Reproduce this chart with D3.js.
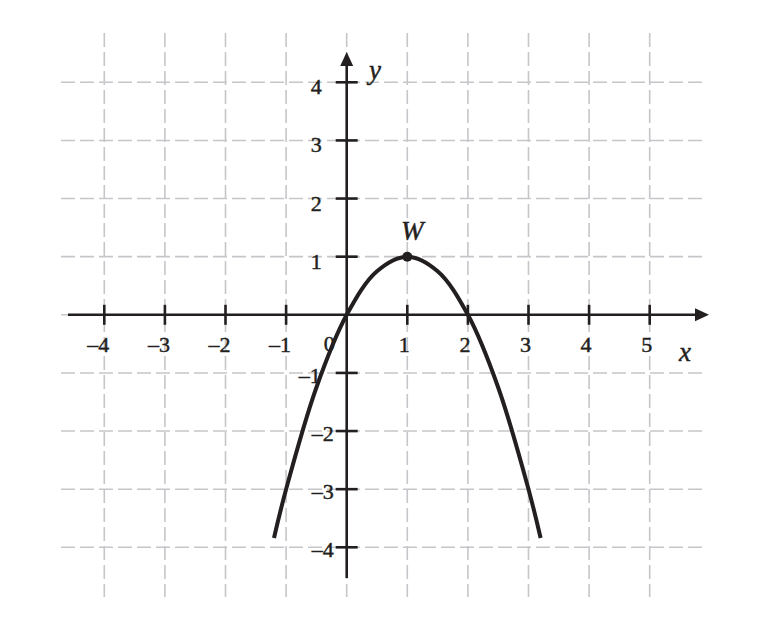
<!DOCTYPE html>
<html>
<head>
<meta charset="utf-8">
<script src="https://cdn.jsdelivr.net/npm/d3@7"></script>
<style>
  html, body { margin: 0; padding: 0; background: #fff; }
  svg { display: block; }
  .serif { font-family: "Liberation Serif", "Times New Roman", serif; }
</style>
</head>
<body>
<svg class="graph_svg"></svg>
<script>
// values
var xTicks = [-4, -3, -2, -1, 1, 2, 3, 4, 5];
var yTicks = [-4, -3, -2, -1, 1, 2, 3, 4];
var xGrid = [-4, -3, -2, -1, 0, 1, 2, 3, 4, 5];
var yGrid = [-4, -3, -2, -1, 0, 1, 2, 3, 4];
// points on the parabola
var curveX = [-1.2, -1, -0.5, 0, 0.5, 1, 1.5, 2, 2.5, 3, 3.2];
var curveY = [-3.84, -3, -1.25, 0, 0.75, 1, 0.75, 0, -1.25, -3, -3.84];
var vertex = { x: 1, y: 1, label: "W" };

var W = 774, H = 630;
var ink = "#231f20", gridColor = "#c6c6ca";

var svg = d3.select(".graph_svg").attr("width", W).attr("height", H);
svg.append("rect").attr("width", W).attr("height", H).attr("fill", "#fff");

var x = d3.scaleLinear().domain([-4, 5]).range([104.3, 649.7]);
var y = d3.scaleLinear().domain([-4, 4]).range([547.3, 82.3]);

//grid
var grid = svg.append("g")
  .attr("stroke", gridColor).attr("stroke-width", 1.6)
  .attr("stroke-dasharray", "14,5");
grid.selectAll(".vline").data(xGrid).join("line")
  .attr("class", "vline")
  .attr("x1", d => x(d)).attr("x2", d => x(d))
  .attr("y1", 33).attr("y2", 597);
grid.selectAll(".hline").data(yGrid).join("line")
  .attr("class", "hline")
  .attr("x1", 61).attr("x2", 704)
  .attr("y1", d => y(d)).attr("y2", d => y(d));

//axes
var x0 = x(0), y0 = y(0);
var axes = svg.append("g").attr("stroke", ink).attr("stroke-width", 2.6);
axes.append("line").attr("x1", 68).attr("x2", 698).attr("y1", y0).attr("y2", y0);
axes.append("line").attr("x1", x0).attr("x2", x0).attr("y1", 578).attr("y2", 62);

svg.append("path")
  .attr("d", `M${709},${y0} L${695},${y0 - 6.5} L${695},${y0 + 6.5} Z`)
  .attr("fill", ink);
svg.append("path")
  .attr("d", `M${x0},${52} L${x0 - 6.5},${66} L${x0 + 6.5},${66} Z`)
  .attr("fill", ink);

axes.selectAll(".xtick").data(xTicks).join("line")
  .attr("class", "xtick")
  .attr("x1", d => x(d)).attr("x2", d => x(d))
  .attr("y1", y0 - 10).attr("y2", y0 + 10);
axes.selectAll(".ytick").data(yTicks).join("line")
  .attr("class", "ytick")
  .attr("x1", x0 - 11).attr("x2", x0 + 11)
  .attr("y1", d => y(d)).attr("y2", d => y(d));

//tick labels
var fmt = d => d < 0 ? "\u2013" + Math.abs(d) : String(d);
var labels = svg.append("g")
  .attr("class", "serif")
  .style("font-size", "22px").attr("fill", ink)
  .attr("stroke", ink).attr("stroke-width", 0.45);

labels.selectAll(".xlab").data(xTicks).join("text")
  .attr("class", "xlab")
  .attr("x", d => d < 0 ? x(d) + 5 : x(d) - 3)
  .attr("y", y0 + 37)
  .attr("text-anchor", d => d < 0 ? "end" : "middle")
  .text(fmt);

labels.selectAll(".ylab").data(yTicks).join("text")
  .attr("class", "ylab")
  .attr("x", d => d > 0 ? x0 - 25 : (d === -1 ? x0 - 26 : x0 - 13))
  .attr("y", d => y(d) + (d > 0 ? 12 : 10))
  .attr("text-anchor", "end")
  .text(fmt);

labels.append("text")
  .attr("x", x0 - 12).attr("y", y0 + 36)
  .attr("text-anchor", "end")
  .text("0");

//axis names
var italic = svg.append("g")
  .attr("class", "serif")
  .style("font-style", "italic").style("font-size", "27px").attr("fill", ink)
  .attr("stroke", ink).attr("stroke-width", 0.45);
italic.append("text").attr("x", 375).attr("y", 79).attr("text-anchor", "middle").text("y");
italic.append("text").attr("x", 685).attr("y", 361).attr("text-anchor", "middle").text("x");

//curve
var pts = curveX.map((d, i) => [d, curveY[i]]);
var line = d3.line()
  .x(d => x(d[0])).y(d => y(d[1]))
  .curve(d3.curveCatmullRom.alpha(0.5));
svg.append("path")
  .datum(pts)
  .attr("d", line)
  .attr("fill", "none")
  .attr("stroke", ink)
  .attr("stroke-width", 4);

//vertex
svg.append("circle")
  .attr("cx", x(vertex.x)).attr("cy", y(vertex.y)).attr("r", 5)
  .attr("fill", ink);
italic.append("text")
  .attr("x", x(vertex.x) + 5).attr("y", y(vertex.y) - 17)
  .attr("text-anchor", "middle")
  .text(vertex.label);
</script>
</body>
</html>
